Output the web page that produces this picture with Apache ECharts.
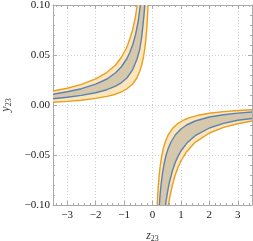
<!DOCTYPE html>
<html><head><meta charset="utf-8">
<script src="https://cdn.jsdelivr.net/npm/echarts@6/dist/echarts.min.js"></script>
<style>html,body{margin:0;padding:0;background:#fff}#c{width:253px;height:241px}</style>
</head><body><div id="c"></div>
<script>
// Left branch (z<0): outer orange upper, blue upper, blue lower, orange lower
var orangeUpperL = [[-3.5,0.014],[-3.0,0.0168],[-2.5,0.0206],[-2.0,0.0262],[-1.6,0.0327],[-1.3,0.040],[-1.1,0.0475],[-0.9,0.058],[-0.8,0.066],[-0.7,0.075],[-0.6,0.088],[-0.54,0.100]];
var blueUpperL = [[-3.5,0.0107],[-3.0,0.0132],[-2.5,0.0163],[-2.0,0.0208],[-1.6,0.026],[-1.3,0.0322],[-1.1,0.038],[-0.9,0.0465],[-0.8,0.0525],[-0.7,0.060],[-0.6,0.070],[-0.5,0.084],[-0.43,0.100]];
var blueLowerL = [[-3.5,0.0063],[-3.0,0.0077],[-2.5,0.0096],[-2.0,0.0122],[-1.6,0.0153],[-1.3,0.0188],[-1.1,0.0222],[-0.9,0.027],[-0.7,0.0352],[-0.55,0.0455],[-0.45,0.0555],[-0.38,0.068],[-0.33,0.081],[-0.3,0.090],[-0.27,0.100]];
var orangeLowerL = [[-3.5,0.0027],[-3.0,0.0036],[-2.5,0.0048],[-2.0,0.0066],[-1.6,0.0086],[-1.3,0.0108],[-1.1,0.013],[-0.9,0.0162],[-0.7,0.021],[-0.55,0.027],[-0.45,0.0335],[-0.38,0.040],[-0.32,0.0475],[-0.27,0.0565],[-0.23,0.0665],[-0.2,0.077],[-0.18,0.086],[-0.165,0.094],[-0.157,0.100]];
// Right branch (z>0)
var orangeUpperR = [[0.165,-0.100],[0.18,-0.092],[0.2,-0.0825],[0.23,-0.0717],[0.27,-0.061],[0.32,-0.0516],[0.38,-0.0434],[0.45,-0.0367],[0.55,-0.030],[0.7,-0.0236],[0.9,-0.0183],[1.1,-0.015],[1.3,-0.0127],[1.6,-0.0103],[2.0,-0.0083],[2.5,-0.0066],[3.0,-0.0055],[3.5,-0.0047]];
var blueUpperR = [[0.24,-0.100],[0.27,-0.089],[0.3,-0.080],[0.35,-0.0686],[0.4,-0.060],[0.47,-0.051],[0.55,-0.0436],[0.65,-0.037],[0.8,-0.030],[1.0,-0.024],[1.2,-0.020],[1.5,-0.016],[2.0,-0.012],[2.5,-0.0097],[3.0,-0.0081],[3.5,-0.0070]];
var blueLowerR = [[0.46,-0.100],[0.5,-0.092],[0.55,-0.0836],[0.6,-0.0767],[0.7,-0.0657],[0.8,-0.0575],[0.9,-0.0511],[1.0,-0.046],[1.2,-0.0383],[1.5,-0.0307],[2.0,-0.023],[2.5,-0.0184],[3.0,-0.0153],[3.5,-0.0135]];
var orangeLowerR = [[0.56,-0.100],[0.6,-0.0933],[0.7,-0.080],[0.8,-0.070],[0.9,-0.0622],[1.0,-0.056],[1.2,-0.0467],[1.5,-0.0373],[2.0,-0.028],[2.5,-0.0224],[3.0,-0.0187],[3.5,-0.016]];

var xTicks = [-3,-2,-1,0,1,2,3];
var yTicks = [-0.10,-0.05,0.00,0.05,0.10];

var ORANGE = '#e69f25', BLUE = '#5e81b5', ORANGE_FILL = '#fde6b9', GRAY_FILL = '#d5c8ab';
var FRAME = '#a9a9a9';

function band(upper, lower, color) {
  return {
    type: 'custom', clip: true, silent: true, data: [0], z: 1,
    renderItem: function (params, api) {
      var pts = upper.concat(lower.slice().reverse()).map(function (p) { return api.coord(p); });
      return { type: 'polygon', shape: { points: pts }, style: { fill: color, stroke: null } };
    }
  };
}
function line(d, color) {
  return { type: 'line', data: d, showSymbol: false, symbol: 'none', z: 3, silent: true,
    lineStyle: { color: color, width: 1.4 }, clip: true };
}
function minus(s) { return String(s).replace('-', '\u2212'); }

var font = 'Liberation Serif';
var chart = echarts.init(document.getElementById('c'), null, { renderer: 'canvas' });
chart.setOption({
  animation: false,
  grid: { left: 53, right: 1, top: 5, bottom: 36, containLabel: false, outerBoundsMode: 'none' },
  xAxis: [{
    type: 'value', min: -3.5, max: 3.5, splitNumber: 7,
    axisLine: { show: true, onZero: false, lineStyle: { color: FRAME } },
    axisTick: { show: true, inside: true, length: 4, lineStyle: { color: FRAME }, customValues: xTicks },
    minorTick: { show: true, splitNumber: 5, length: 2, lineStyle: { color: FRAME } },
    axisLabel: { customValues: xTicks, color: '#222', fontFamily: font, fontSize: 11, margin: 5,
      formatter: function (v) { return minus(v); } },
    splitLine: { show: true, lineStyle: { color: '#cfcfcf', type: [1, 2], width: 1 } },
    name: '{i|z}{s|23}', nameLocation: 'middle', nameGap: 24,
    nameTextStyle: { rich: { i: { fontFamily: font, fontStyle: 'italic', fontSize: 12, color: '#333' },
      s: { fontFamily: font, fontSize: 8, color: '#333', padding: [6, 0, 0, 0] } } }
  }, {
    type: 'value', min: -3.5, max: 3.5, splitNumber: 7, position: 'top',
    axisLine: { show: true, onZero: false, lineStyle: { color: FRAME } },
    axisTick: { show: true, inside: true, length: 4, lineStyle: { color: FRAME }, customValues: xTicks },
    minorTick: { show: true, splitNumber: 5, length: 2, lineStyle: { color: FRAME } },
    axisLabel: { show: false }, splitLine: { show: false }
  }],
  yAxis: [{
    type: 'value', min: -0.1, max: 0.1, interval: 0.05,
    axisLine: { show: true, onZero: false, lineStyle: { color: FRAME } },
    axisTick: { show: true, inside: true, length: 4, lineStyle: { color: FRAME } },
    minorTick: { show: true, splitNumber: 5, length: 2, lineStyle: { color: FRAME } },
    axisLabel: { color: '#222', fontFamily: font, fontSize: 11, margin: 3,
      formatter: function (v) { return minus(v.toFixed(2)); } },
    splitLine: { show: true, lineStyle: { color: '#cfcfcf', type: [1, 2], width: 1 } },
    name: '{i|y}{s|23}', nameLocation: 'middle', nameGap: 40, nameRotate: 90,
    nameTextStyle: { rich: { i: { fontFamily: font, fontStyle: 'italic', fontSize: 12, color: '#333' },
      s: { fontFamily: font, fontSize: 8, color: '#333', padding: [6, 0, 0, 0] } } }
  }, {
    type: 'value', min: -0.1, max: 0.1, interval: 0.05, position: 'right',
    axisLine: { show: true, onZero: false, lineStyle: { color: FRAME } },
    axisTick: { show: true, inside: true, length: 4, lineStyle: { color: FRAME } },
    minorTick: { show: true, splitNumber: 5, length: 2, lineStyle: { color: FRAME } },
    axisLabel: { show: false }, splitLine: { show: false }
  }],
  series: [
    band(orangeUpperL, orangeLowerL, ORANGE_FILL),
    band(orangeUpperR, orangeLowerR, ORANGE_FILL),
    band(blueUpperL, blueLowerL, GRAY_FILL),
    band(blueUpperR, blueLowerR, GRAY_FILL),
    line(orangeUpperL, ORANGE), line(orangeLowerL, ORANGE),
    line(orangeUpperR, ORANGE), line(orangeLowerR, ORANGE),
    line(blueUpperL, BLUE), line(blueLowerL, BLUE),
    line(blueUpperR, BLUE), line(blueLowerR, BLUE)
  ]
});
</script></body></html>
